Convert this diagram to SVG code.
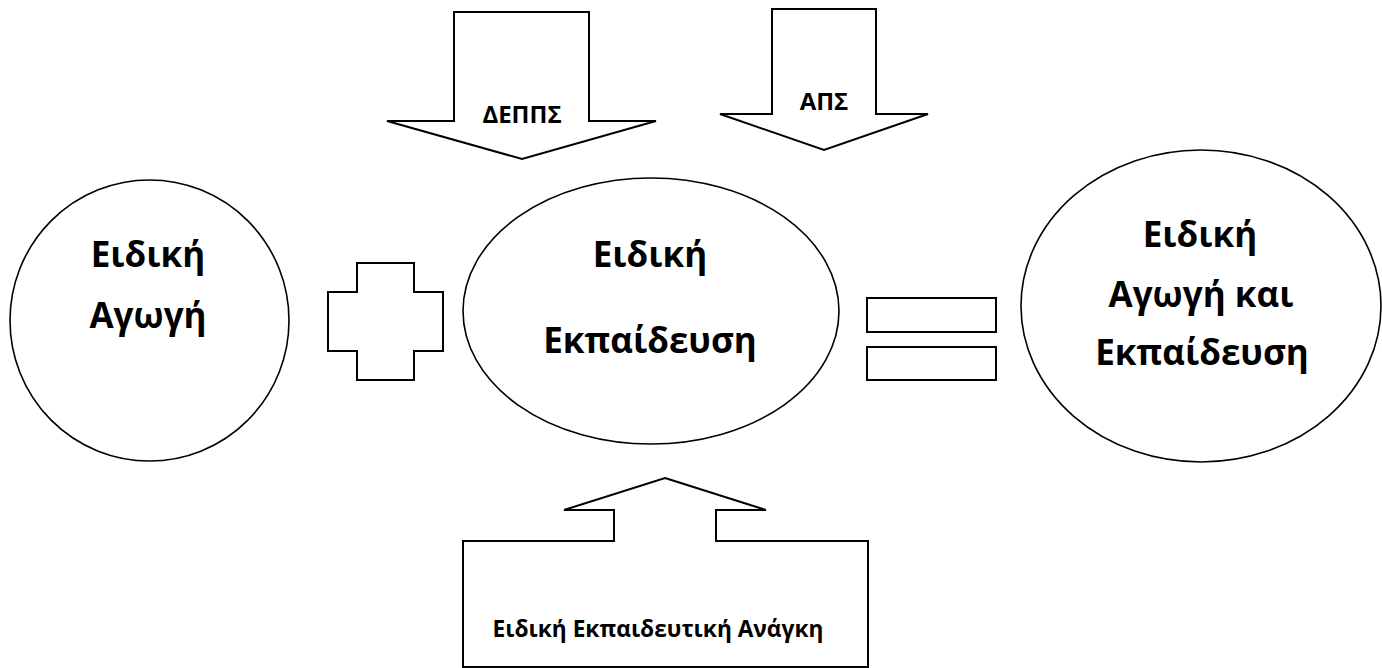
<svg xmlns="http://www.w3.org/2000/svg" width="1382" height="668" viewBox="0 0 1382 668">
<style>
.s{fill:#fff;stroke:#000;stroke-width:2;stroke-linejoin:miter}
.e{fill:#fff;stroke:#000;stroke-width:1.6}
.big{font-family:"Open Sans","Liberation Sans",sans-serif;font-weight:bold;font-size:35px;text-anchor:middle;fill:#000}
.sm{font-family:"Open Sans","Liberation Sans",sans-serif;font-weight:bold;font-size:24px;text-anchor:middle;fill:#000}
.bt{font-family:"Open Sans","Liberation Sans",sans-serif;font-weight:bold;font-size:22.7px;text-anchor:middle;fill:#000}
</style>
<rect width="1382" height="668" fill="#fff"/>
<g id="deppsArrow">
<polygon class="s" points="454,12 589,12 589,121 656,121 522,159 387,121 454,121"/>
<text class="sm" x="522" y="123">ΔΕΠΠΣ</text>
</g>
<g id="apsArrow">
<polygon class="s" points="772,9 876,9 876,114 928,114 824,150 720,114 772,114"/>
<text class="sm" x="824" y="110">ΑΠΣ</text>
</g>
<g id="agogi">
<ellipse class="e" cx="149.5" cy="320.5" rx="139.5" ry="140.5"/>
<text class="big" x="148" y="267">Ειδική</text>
<text class="big" x="148" y="328">Αγωγή</text>
</g>
<g id="plus">
<polygon class="s" points="357,263 414,263 414,292 443,292 443,351 414,351 414,380 357,380 357,351 328,351 328,292 357,292"/>
</g>
<g id="ekpaideusi">
<ellipse class="e" cx="651" cy="311" rx="188" ry="133"/>
<text class="big" x="650" y="267">Ειδική</text>
<text class="big" x="650" y="353">Εκπαίδευση</text>
</g>
<g id="equals">
<rect class="s" x="867" y="298" width="129" height="34"/>
<rect class="s" x="867" y="347" width="129" height="33"/>
</g>
<g id="result">
<ellipse class="e" cx="1201" cy="306" rx="180" ry="156"/>
<text class="big" x="1200" y="247">Ειδική</text>
<text class="big" x="1201" y="307">Αγωγή και</text>
<text class="big" x="1202" y="365">Εκπαίδευση</text>
</g>
<g id="anagkiArrow">
<polygon class="s" points="665,478 766,510 716,510 716,541 868,541 868,667 463,667 463,541 614,541 614,510 564,510"/>
<text class="bt" x="658" y="637">Ειδική Εκπαιδευτική Ανάγκη</text>
</g>
<g id="connectors"></g>
</svg>
